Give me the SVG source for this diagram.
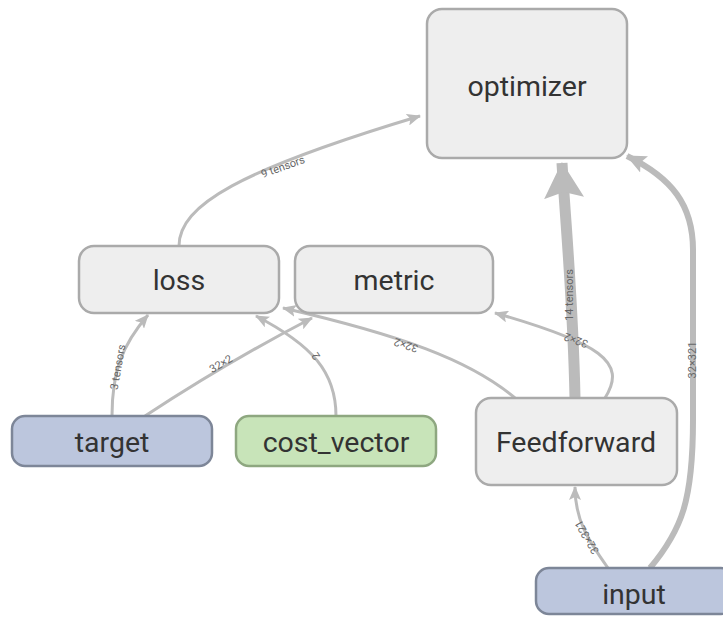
<svg xmlns="http://www.w3.org/2000/svg" width="723" height="619" viewBox="0 0 723 619">
  <style>
    .node rect { stroke-width: 2.5; }
    .op rect { fill: #eeeeee; stroke: #aaaaaa; }
    .ph rect { fill: #bcc6dd; stroke: #7d8698; }
    .cv rect { fill: #c8e4b9; stroke: #8ea780; }
    .node text { font-family: Roboto, "Liberation Sans", sans-serif; font-size: 28.5px; fill: #333333; text-anchor: middle; dominant-baseline: central; }
    .edge { fill: none; stroke: #bbbbbb; }
    .e1 { stroke-width: 3; }
    .e2 { stroke-width: 6; }
    .e3 { stroke-width: 11; }
    .lbl { font-family: Roboto, "Liberation Sans", sans-serif; font-size: 11px; fill: #666666; text-anchor: middle; dominant-baseline: central; }
  </style>
  <defs>
    <marker id="head" viewBox="0 0 14 12" refX="13" refY="6" markerWidth="14" markerHeight="12" markerUnits="userSpaceOnUse" orient="auto">
      <path d="M0,0 L14,6 L0,12 L3,6 z" fill="#bbbbbb"/>
    </marker>
    <marker id="headMid" viewBox="0 0 20 18" refX="19" refY="9" markerWidth="20" markerHeight="18" markerUnits="userSpaceOnUse" orient="auto">
      <path d="M0,0 L20,9 L0,18 L4,9 z" fill="#bbbbbb"/>
    </marker>
    <marker id="headBig" viewBox="0 0 36 40" refX="35" refY="20" markerWidth="36" markerHeight="40" markerUnits="userSpaceOnUse" orient="auto">
      <path d="M0,0 L36,20 L0,40 L6,20 z" fill="#bbbbbb"/>
    </marker>
  </defs>

  <g id="connectors">
    <path class="edge e1" d="M179,246 C179,205 240,170 420,116" marker-end="url(#head)"/>
    <path class="edge e1" d="M112,416 C112,372 122,345 148,315" marker-end="url(#head)"/>
    <path class="edge e1" d="M145,416 C200,380 260,345 312,318" marker-end="url(#head)"/>
    <path class="edge e1" d="M336,416 C336,372 312,345 256,316" marker-end="url(#head)"/>
    <path class="edge e1" d="M515,398 C470,360 400,335 283,308" marker-end="url(#head)"/>
    <path class="edge e1" d="M605,398 C628,362 600,343 495,313" marker-end="url(#head)"/>
    <path class="edge e3" d="M575,398 C573,300 566,230 562,163" marker-end="url(#headBig)"/>
    <path class="edge e2" d="M650,568 C682,530 693,500 693,420 L693,250 C693,205 672,178 627,156" marker-end="url(#headMid)"/>
    <path class="edge e1" d="M608,568 C588,540 575,520 575,487" marker-end="url(#head)"/>

    <text class="lbl" transform="translate(283,167) rotate(-20)">9 tensors</text>
    <text class="lbl" transform="translate(118,367) rotate(-80)">3 tensors</text>
    <text class="lbl" transform="translate(221,364) rotate(-31)">32×2</text>
    <text class="lbl" transform="translate(316,356) rotate(-125)">2</text>
    <text class="lbl" transform="translate(406,345) rotate(198)">32×2</text>
    <text class="lbl" transform="translate(576,340) rotate(200)">32×2</text>
    <text class="lbl" transform="translate(569,295) rotate(-90)">14 tensors</text>
    <text class="lbl" transform="translate(692,360) rotate(-90)">32×321</text>
    <text class="lbl" transform="translate(587,537) rotate(-120)">32×321</text>
  </g>

  <g id="optimizer" class="node op">
    <rect x="427" y="9" width="200" height="149" rx="15"/>
    <text x="527" y="86">optimizer</text>
  </g>
  <g id="loss" class="node op">
    <rect x="79" y="246" width="200" height="67" rx="15"/>
    <text x="179" y="280">loss</text>
  </g>
  <g id="metric" class="node op">
    <rect x="295" y="246" width="198" height="67" rx="15"/>
    <text x="394" y="280">metric</text>
  </g>
  <g id="Feedforward" class="node op">
    <rect x="476" y="398" width="201" height="87" rx="15"/>
    <text x="576" y="442">Feedforward</text>
  </g>
  <g id="target" class="node ph">
    <rect x="12" y="416" width="200" height="50" rx="13"/>
    <text x="112" y="442">target</text>
  </g>
  <g id="cost_vector" class="node cv">
    <rect x="236" y="416" width="200" height="50" rx="13"/>
    <text x="336" y="442">cost_vector</text>
  </g>
  <g id="input" class="node ph">
    <rect x="536" y="568" width="198" height="46" rx="13"/>
    <text x="634" y="594">input</text>
  </g>
</svg>
